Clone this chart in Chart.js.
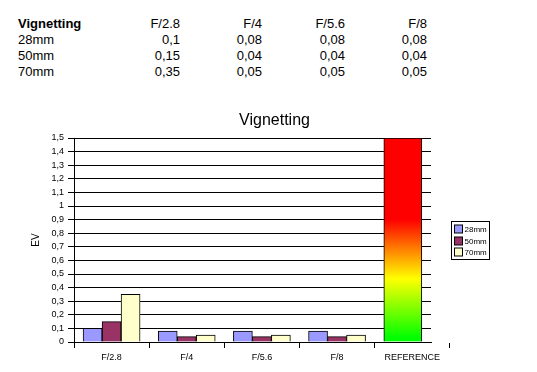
<!DOCTYPE html>
<html>
<head>
<meta charset="utf-8">
<script src="https://cdn.jsdelivr.net/npm/chart.js@4.4.1/dist/chart.umd.min.js"></script>
<style>
  html, body { margin: 0; padding: 0; background: #fff; width: 537px; height: 372px; overflow: hidden; }
  #data { position: absolute; left: 18px; top: 16px; border-collapse: collapse; table-layout: fixed;
          font: 13px "Liberation Sans", Arial, sans-serif; color: #000; }
  #data td { padding: 0; height: 16px; line-height: 16px; white-space: nowrap; text-align: right; }
  #data td:first-child { text-align: left; }
  #data tr:first-child td:first-child { font-weight: bold; }
  #wrap { position: absolute; left: 0; top: 100px; width: 537px; height: 272px; }
</style>
</head>
<body>
<table id="data">
  <colgroup><col style="width:80px"><col style="width:82px"><col style="width:82px"><col style="width:83px"><col style="width:82px"></colgroup>
  <tbody id="rows"></tbody>
</table>
<div id="wrap"><canvas id="chart" width="537" height="272"></canvas></div>
<script>
const chartTitle = 'Vignetting';
const categories = ['F/2.8', 'F/4', 'F/5.6', 'F/8'];
const seriesNames = ['28mm', '50mm', '70mm'];
const values28 = [0.1, 0.08, 0.08, 0.08];
const values50 = [0.15, 0.04, 0.04, 0.04];
const values70 = [0.35, 0.05, 0.05, 0.05];
const referenceLabel = 'REFERENCE';
const referenceValue = 1.5;
const yTicks = [0, 0.1, 0.2, 0.3, 0.4, 0.5, 0.6, 0.7, 0.8, 0.9, 1, 1.1, 1.2, 1.3, 1.4, 1.5];
const xMax = 4.75; // last category is cut off by the plot area

const seriesValues = [values28, values50, values70];
const fills = ['#9999FF', '#993366', '#FFFFCC'];
const FONT = '"Liberation Sans", Arial, sans-serif';

// number format with decimal comma
const fmt = v => String(Number(v.toFixed(2))).replace('.', ',');

// table above the chart
const rows = [[chartTitle, ...categories]].concat(
  seriesNames.map((name, s) => [name, ...seriesValues[s].map(fmt)])
);
document.getElementById('rows').innerHTML = rows
  .map(r => '<tr>' + r.map(c => `<td>${c}</td>`).join('') + '</tr>')
  .join('');

const allLabels = [...categories, referenceLabel];
const xTicks = [];
for (let i = 0; i <= allLabels.length; i++) {
  xTicks.push(i);
  if (i < allLabels.length) xTicks.push(i + 0.5);
}

const datasets = seriesNames.map((name, s) => ({
  label: name,
  data: categories.map((c, i) => ({ x: i + 0.5, y: seriesValues[s][i] })),
  backgroundColor: fills[s],
  borderColor: '#000',
  borderWidth: 1,
  barThickness: 19
}));

// reference bar sits in the visible part of the last category, not grouped
datasets.push({
  label: referenceLabel,
  data: [{ x: (categories.length + xMax) / 2, y: referenceValue }],
  grouped: false,
  backgroundColor: (ctx) => {
    const area = ctx.chart.chartArea;
    if (!area) return '#FF0000';
    const y = ctx.chart.scales.y;
    const g = ctx.chart.ctx.createLinearGradient(0, y.getPixelForValue(referenceValue), 0, y.getPixelForValue(0));
    g.addColorStop(0, '#FF0000');
    g.addColorStop(0.40, '#FF0000');
    g.addColorStop(0.69, '#FFFF00');
    g.addColorStop(0.98, '#00FF00');
    g.addColorStop(1, '#00FF00');
    return g;
  },
  borderColor: '#000',
  borderWidth: 1,
  barThickness: 38
});

// title + boxed legend like the old spreadsheet chart
const decorPlugin = {
  id: 'decor',
  afterDraw(chart) {
    const ctx = chart.ctx;
    const area = chart.chartArea;
    ctx.save();
    ctx.fillStyle = '#000';
    ctx.font = '16px ' + FONT;
    ctx.textAlign = 'center';
    ctx.textBaseline = 'alphabetic';
    ctx.fillText(chartTitle, chart.width / 2 + 6, 25);

    const left = Math.round(area.right + 20) + 0.5;
    const boxW = 38, boxH = 38;
    const top = Math.round((area.top + area.bottom) / 2 - boxH / 2) + 0.5;
    ctx.lineWidth = 1;
    ctx.strokeStyle = '#000';
    ctx.strokeRect(left, top, boxW, boxH);
    ctx.font = '8px ' + FONT;
    ctx.textAlign = 'left';
    ctx.textBaseline = 'middle';
    seriesNames.forEach((name, i) => {
      const y = Math.round(top + 3.5 + i * 11.7);
      ctx.fillStyle = fills[i];
      ctx.fillRect(left + 3, y, 8, 8);
      ctx.strokeRect(left + 3, y, 8, 8);
      ctx.fillStyle = '#000';
      ctx.fillText(name, left + 13, y + 4.5);
    });
    ctx.restore();
  }
};

new Chart(document.getElementById('chart'), {
  type: 'bar',
  data: { datasets },
  options: {
    responsive: false,
    animation: false,
    layout: { padding: { top: 38, right: 106, left: 0, bottom: 0 } },
    plugins: {
      legend: { display: false },
      title: { display: false },
      tooltip: { enabled: false }
    },
    scales: {
      x: {
        type: 'linear',
        min: 0,
        max: xMax,
        offset: false,
        afterFit: (s) => { s.height = 30; },
        afterBuildTicks: (s) => { s.ticks = xTicks.map(v => ({ value: v })); },
        ticks: {
          autoSkip: false,
          maxRotation: 0,
          minRotation: 0,
          padding: 4,
          color: '#000',
          font: { size: 9, family: FONT },
          callback: (v) => (v % 1 === 0.5 ? allLabels[Math.floor(v)] : '')
        },
        grid: {
          offset: false,
          drawOnChartArea: false,
          tickLength: 6,
          tickColor: (c) => (c.tick && Number.isInteger(c.tick.value) ? '#000' : 'rgba(0,0,0,0)')
        },
        border: { color: '#000' }
      },
      y: {
        min: 0,
        max: 1.5,
        afterFit: (s) => { s.width = 74; },
        afterBuildTicks: (s) => { s.ticks = yTicks.map(v => ({ value: v })); },
        ticks: {
          autoSkip: false,
          padding: 4,
          color: '#000',
          font: { size: 9, family: FONT },
          callback: (v) => fmt(v)
        },
        grid: { color: '#000', tickLength: 6 },
        border: { color: '#000' },
        title: {
          display: true,
          text: 'EV',
          color: '#000',
          font: { size: 10, family: FONT },
          padding: { top: 30, bottom: 0 }
        }
      }
    }
  },
  plugins: [decorPlugin]
});
</script>
</body>
</html>
